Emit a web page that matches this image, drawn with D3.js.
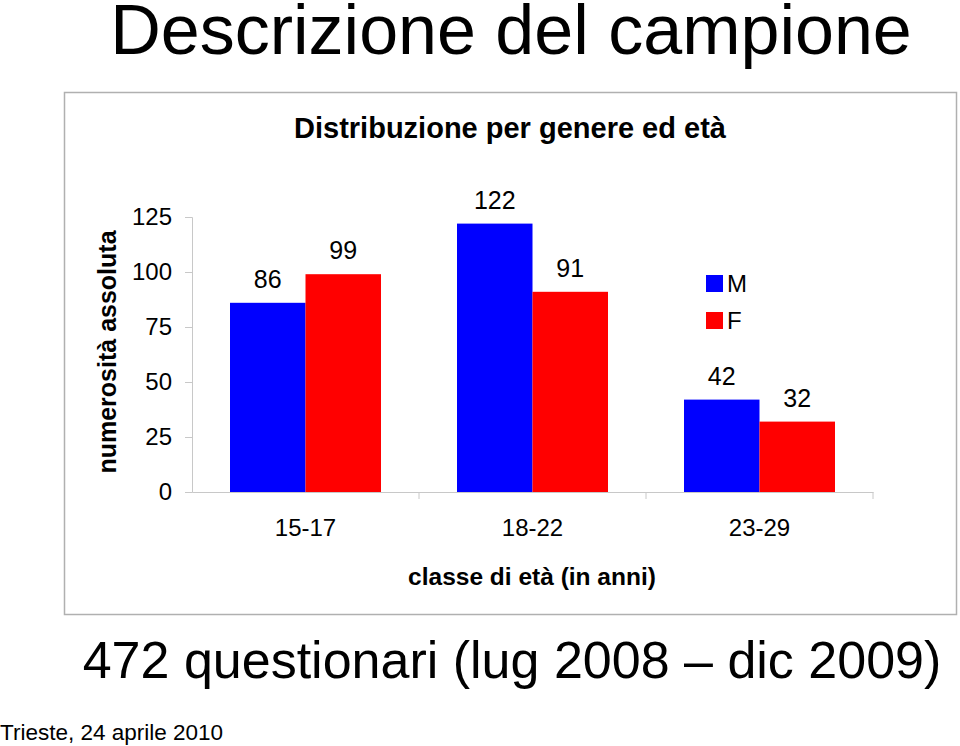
<!DOCTYPE html>
<html>
<head>
<meta charset="utf-8">
<script src="https://cdn.jsdelivr.net/npm/d3@7"></script>
<style>
  body { margin: 0; background: #fff; }
  svg { display: block; font-family: "Liberation Sans", Arial, sans-serif; }
</style>
</head>
<body>
<svg id="canvas" width="960" height="746"></svg>
<script>
var categories = ["15-17", "18-22", "23-29"]
var series = ["M", "F"]
var valuesM = [86, 122, 42]
var valuesF = [99, 91, 32]
var yTicks = [0, 25, 50, 75, 100, 125]
var colors = { M: "#0000ff", F: "#ff0000" }

var svg = d3.select("#canvas")

// page titles
svg.append("text").attr("x", 511).attr("y", 54).attr("text-anchor", "middle")
	.style("font-size", "70px").text("Descrizione del campione")
svg.append("text").attr("x", 512).attr("y", 678).attr("text-anchor", "middle")
	.style("font-size", "52px").text("472 questionari (lug 2008 \u2013 dic 2009)")
svg.append("text").attr("x", 0).attr("y", 740)
	.style("font-size", "22.5px").text("Trieste, 24 aprile 2010")

// chart frame
svg.append("rect").attr("x", 64.5).attr("y", 92.5).attr("width", 892).attr("height", 522)
	.attr("fill", "none").attr("stroke", "#b0b0b0").attr("stroke-width", 1.5)

svg.append("text").attr("x", 510).attr("y", 138).attr("text-anchor", "middle")
	.style("font-size", "29px").style("font-weight", "bold")
	.text("Distribuzione per genere ed et\u00e0")

var x0 = d3.scaleBand().domain(categories).range([192, 873]).paddingInner(0).paddingOuter(0)
var x1 = d3.scaleBand().domain(series).range([38, x0.bandwidth() - 38])
var y = d3.scaleLinear().domain([0, 125]).range([492, 217])

var rows = categories.map(function(c, i) {
	return { cat: c, vals: [{ s: "M", v: valuesM[i] }, { s: "F", v: valuesF[i] }] }
})

// y axis
var yAxis = svg.append("g").attr("transform", "translate(192,0)")
	.call(d3.axisLeft(y).tickValues(yTicks).tickSize(7).tickPadding(13))
yAxis.selectAll("line, path").attr("stroke", "#c8c8c8")
yAxis.selectAll("text").style("font-size", "24px").attr("fill", "#000")

// x axis
var xAxis = svg.append("g").attr("transform", "translate(0,492)")
	.call(d3.axisBottom(x0).tickSize(0).tickSizeOuter(0).tickPadding(27))
xAxis.select("path").attr("stroke", "#c8c8c8")
xAxis.selectAll("text").style("font-size", "24px").attr("fill", "#000")
xAxis.selectAll(".sep").data(categories.slice(1).concat(["end"])).enter().append("line")
	.attr("x1", function(d, i) { return 192 + x0.step() * (i + 1) })
	.attr("x2", function(d, i) { return 192 + x0.step() * (i + 1) })
	.attr("y1", 0).attr("y2", 7).attr("stroke", "#c8c8c8")

// bars
var group = svg.selectAll(".grp").data(rows).enter().append("g")
	.attr("transform", function(d) { return "translate(" + x0(d.cat) + ",0)" })

group.selectAll("rect").data(function(d) { return d.vals }).enter().append("rect")
	.attr("x", function(d) { return x1(d.s) })
	.attr("y", function(d) { return y(d.v) })
	.attr("width", x1.bandwidth())
	.attr("height", function(d) { return y(0) - y(d.v) })
	.attr("fill", function(d) { return colors[d.s] })

group.selectAll(".lbl").data(function(d) { return d.vals }).enter().append("text")
	.attr("x", function(d) { return x1(d.s) + x1.bandwidth() / 2 })
	.attr("y", function(d) { return y(d.v) - 15 })
	.attr("text-anchor", "middle").style("font-size", "25px")
	.text(function(d) { return d.v })

// axis titles
svg.append("text").attr("transform", "translate(116,352) rotate(-90)")
	.attr("text-anchor", "middle").style("font-size", "25px").style("font-weight", "bold")
	.text("numerosit\u00e0 assoluta")
svg.append("text").attr("x", 532).attr("y", 585).attr("text-anchor", "middle")
	.style("font-size", "24.5px").style("font-weight", "bold")
	.text("classe di et\u00e0 (in anni)")

// legend
var legend = svg.selectAll(".leg").data(series).enter().append("g")
	.attr("transform", function(d, i) { return "translate(706," + (275 + i * 37) + ")" })
legend.append("rect").attr("width", 17).attr("height", 17).attr("fill", function(d) { return colors[d] })
legend.append("text").attr("x", 21).attr("y", 17).style("font-size", "24px").text(function(d) { return d })
</script>
</body>
</html>
